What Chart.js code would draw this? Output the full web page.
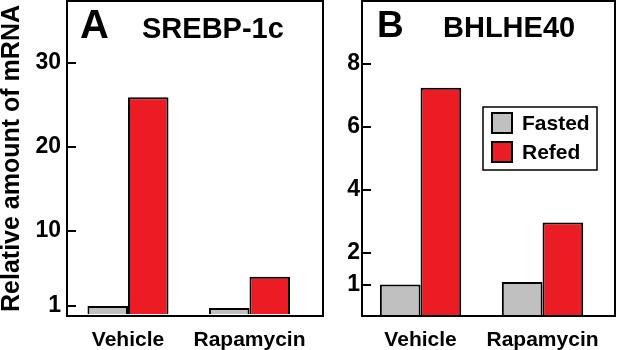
<!DOCTYPE html>
<html>
<head>
<meta charset="utf-8">
<script src="https://cdn.jsdelivr.net/npm/chart.js@4"></script>
<style>
  html, body { margin: 0; padding: 0; background: #fff; }
  #wrap { position: relative; width: 617px; height: 350px; overflow: hidden; }
  canvas { position: absolute; top: 0; }
  #chartA { left: 0; }
  #chartB { left: 325px; }
</style>
</head>
<body>
<div id="wrap">
  <canvas id="chartA" width="325" height="350"></canvas>
  <canvas id="chartB" width="292" height="350"></canvas>
</div>
<script>
// values
const categories = ['Vehicle', 'Rapamycin'];
const seriesNames = ['Fasted', 'Refed'];
const srebpFasted = [1.0, 0.75];
const srebpRefed = [25.9, 4.5];
const bhlheFasted = [1.0, 1.08];
const bhlheRefed = [7.25, 2.97];
const srebpTicks = [1, 10, 20, 30];
const bhlheTicks = [1, 2, 4, 6, 8];

const FONT = '"Liberation Sans", Arial, Helvetica, sans-serif';
const GREY = '#c0c0c0';
const RED = '#ec1c24';

Chart.defaults.font.family = FONT;
Chart.defaults.color = '#000';

/**
 * Draws the frame, inward tick marks, panel letter, title and (optionally) the legend
 */
const panelDecor = {
    id: 'panelDecor',
    afterDatasetsDraw(chart, args, opts) {
        const ctx = chart.ctx;
        const area = chart.chartArea;
        const yScale = chart.scales.y;
        ctx.save();
        ctx.strokeStyle = '#000';
        ctx.lineWidth = 2;

        // short ticks pointing into the plot
        yScale.ticks.forEach(t => {
            const py = Math.round(yScale.getPixelForValue(t.value));
            ctx.beginPath();
            ctx.moveTo(area.left, py);
            ctx.lineTo(area.left + 9, py);
            ctx.stroke();
        });

        // box around the plot
        ctx.strokeRect(area.left, area.top, area.right - area.left, area.bottom - area.top);

        // panel letter and gene name
        ctx.fillStyle = '#000';
        ctx.textAlign = 'left';
        ctx.textBaseline = 'alphabetic';
        ctx.font = 'bold ' + opts.letterSize + 'px ' + FONT;
        ctx.fillText(opts.letter, area.left + opts.letterX, opts.baseline);
        ctx.font = 'bold 29px ' + FONT;
        ctx.fillText(opts.title, area.left + opts.titleX, opts.baseline);

        if (opts.legend) {
            const bx = area.left + 121;
            const by = area.top + 106;
            ctx.lineWidth = 1.5;
            ctx.strokeRect(bx, by, 114, 63);
            ctx.font = 'bold 21px ' + FONT;
            ctx.textBaseline = 'middle';
            chart.data.datasets.forEach((ds, i) => {
                const sy = by + 6 + i * 29;
                ctx.fillStyle = ds.backgroundColor;
                ctx.fillRect(bx + 9, sy, 20, 20);
                ctx.lineWidth = 2;
                ctx.strokeRect(bx + 9, sy, 20, 20);
                ctx.fillStyle = '#000';
                ctx.fillText(ds.label, bx + 39, sy + 11);
            });
        }
        ctx.restore();
    }
};

function toPoints(values) {
    return values.map((v, i) => ({ x: i, y: v }));
}

function makePanel(canvasId, fasted, refed, tickValues, p) {
    const ctx = document.getElementById(canvasId).getContext('2d');
    return new Chart(ctx, {
        type: 'bar',
        data: {
            datasets: [
                {
                    label: seriesNames[0],
                    data: toPoints(fasted),
                    backgroundColor: GREY,
                    borderColor: '#000',
                    borderWidth: 2
                },
                {
                    label: seriesNames[1],
                    data: toPoints(refed),
                    backgroundColor: RED,
                    borderColor: '#000',
                    borderWidth: 2
                }
            ]
        },
        options: {
            responsive: false,
            devicePixelRatio: 1,
            animation: false,
            categoryPercentage: 0.667,
            barPercentage: 1.0,
            layout: { padding: { top: 1, right: 2, left: 0, bottom: 0 } },
            plugins: {
                legend: { display: false },
                tooltip: { enabled: false },
                panelDecor: p.decor
            },
            scales: {
                x: {
                    type: 'linear',
                    offset: false,
                    min: p.xMin,
                    max: p.xMax,
                    grid: { display: false },
                    border: { display: false },
                    afterBuildTicks: scale => {
                        scale.ticks = categories.map((c, i) => ({ value: i }));
                    },
                    afterFit: scale => {
                        scale.height = 34;
                        scale.paddingLeft = 0;
                        scale.paddingRight = 0;
                    },
                    ticks: {
                        padding: 4,
                        font: { size: 21, weight: 'bold' },
                        callback: v => categories[v]
                    }
                },
                y: {
                    min: p.yMin,
                    max: p.yMax,
                    grid: { display: false, drawTicks: false },
                    border: { display: false },
                    afterBuildTicks: scale => {
                        scale.ticks = tickValues.map(v => ({ value: v }));
                    },
                    afterFit: scale => {
                        scale.width = p.axisWidth;
                        scale.paddingTop = 0;
                        scale.paddingBottom = 0;
                    },
                    ticks: {
                        padding: p.tickPad,
                        font: { size: 23, weight: 'bold' }
                    },
                    title: {
                        display: p.yTitle,
                        text: 'Relative amount of mRNA',
                        padding: 0,
                        font: { size: 25, weight: 'bold', lineHeight: 1 }
                    }
                }
            }
        },
        plugins: [panelDecor]
    });
}

makePanel('chartA', srebpFasted, srebpRefed, srebpTicks, {
    xMin: -0.502, xMax: 1.605,
    yMin: -0.2, yMax: 37.4,
    axisWidth: 67, tickPad: 6, yTitle: true,
    decor: { letter: 'A', letterSize: 40, letterX: 13, title: 'SREBP-1c', titleX: 75, baseline: 38, legend: false }
});

makePanel('chartB', bhlheFasted, bhlheRefed, bhlheTicks, {
    xMin: -0.48, xMax: 1.594,
    yMin: 0, yMax: 10,
    axisWidth: 37, tickPad: 2, yTitle: false,
    decor: { letter: 'B', letterSize: 37, letterX: 15, title: 'BHLHE40', titleX: 81, baseline: 37, legend: true }
});
</script>
</body>
</html>
